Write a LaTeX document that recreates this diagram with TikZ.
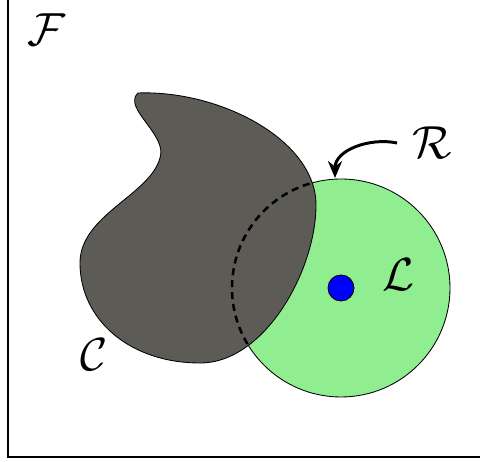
\documentclass[tikz,border=0pt]{standalone}
\usepackage{amsmath,amssymb}
\usepackage{xcolor}
\usetikzlibrary{arrows.meta}
\definecolor{setgreen}{HTML}{90EE90}
\definecolor{blobgray}{HTML}{5C5B55}

% outline of the grey obstacle
\newcommand{\blobpath}{(3.45,9.225)
  .. controls (5.5,9.3) and (7.9,8.05) .. (7.9,6.425)
  .. controls (7.9,4.8) and (6.625,2.475) .. (5.0,2.475)
  .. controls (3.25,2.475) and (2.0,3.55) .. (2.0,4.975)
  .. controls (2.0,6.175) and (3.75,6.675) .. (4.0,7.6)
  .. controls (4.2,8.175) and (3.05,8.85) .. (3.45,9.225) -- cycle}

\begin{document}
\begin{tikzpicture}[
    region/.style={draw=black, line width=0.6pt},
    boundary/.style={line width=1.8pt, dash pattern=on 5pt off 3.5pt},
    lbl/.style={scale=3.3, inner sep=0.5pt},
    pointer/.style={line width=2.1pt, -{Stealth[length=12pt, width=10pt]}},
  ]
  \useasboundingbox (0,0) rectangle (12,11.55);

  % ---- the frame (only its left and bottom sides fall in the picture)
  \draw[line width=0.8pt] (0.2,11.55) |- (12,0.125);

  \coordinate (ctr) at (8.525,4.35);
  \def\rad{2.725}

  % ---- the green set
  \draw[region, fill=setgreen] (ctr) circle (\rad);

  % ---- the grey obstacle, with the hidden part of the circle dashed
  \draw[region, fill=blobgray] \blobpath;
  \begin{scope}
    \clip \blobpath;
    \draw[boundary] (ctr) circle (\rad);
  \end{scope}

  % ---- the point inside
  \draw[region, fill=blue] (ctr) circle (0.325);

  % ---- labels
  \node[lbl] (F) at (1.15,10.8) {$\mathcal{F}$};
  \node[lbl] (C) at (2.35,2.675) {$\mathcal{C}$};
  \node[lbl] (L) at (9.95,4.675) {$\mathcal{L}$};
  \node[lbl] (R) at (10.8,7.975) {$\mathcal{R}$};

  % ---- pointer to the boundary
  \coordinate (rtip) at (8.375,7.1);
  \draw[pointer] ([xshift=-0.3cm]R.west) to[out=168, in=90] (rtip);

\end{tikzpicture}
\end{document}
